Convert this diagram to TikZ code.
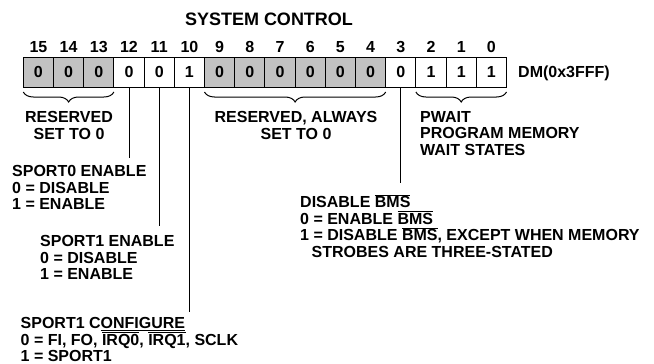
\documentclass[tikz,border=0pt]{standalone}
\usepackage{fontspec}
\setmainfont{Liberation Sans}
\usetikzlibrary{positioning,decorations.pathreplacing}
\newcommand{\ovl}[1]{$\smash{\overline{\mbox{#1}}}$}

\tikzset{
  cell/.style={draw, rectangle, line width=1pt, minimum width=30.2pt, minimum height=30pt, inner sep=0pt, outer sep=0pt},
  shd/.style={fill=gray!48},
  clr/.style={fill=white},
  txt/.style={align=left, anchor=north west, inner sep=0pt},
  lead/.style={line width=0.9pt},
  brc/.style={decorate, decoration={brace, mirror, amplitude=10pt}, line width=1pt}
}

\begin{document}
\begin{tikzpicture}[x=1pt, y=-1pt, font=\fontsize{16}{16.7}\selectfont\bfseries]
            \useasboundingbox (0,0) rectangle (654,364);
            \node [anchor=base, font=\fontsize{18}{20}\selectfont\bfseries] (title) at (269,25.4) {SYSTEM CONTROL};

            \foreach \b/\v/\s in {15/0/shd,14/0/shd,13/0/shd,12/0/clr,11/0/clr,10/1/clr,9/0/shd,8/0/shd,7/0/shd,6/0/shd,5/0/shd,4/0/shd,3/0/clr,2/1/clr,1/1/clr,0/1/clr}{
              \node [cell, \s] (b\b) at ({23.3+(15.5-\b)*30.2},72) {\v};
              \node [anchor=base, inner sep=0pt] (n\b) at ({23.3+(15.5-\b)*30.2},52.7) {\b};
            }
            \node [anchor=base west, inner sep=0pt] (dm) at (518,77.7) {DM(0x3FFF)};

            \draw [brc] ([yshift=-5pt]b15.south west) -- ([yshift=-5pt]b13.south east);
            \draw [brc] ([yshift=-5pt]b9.south west) -- ([yshift=-5pt]b4.south east);
            \draw [brc] ([yshift=-5pt]b2.south west) -- ([yshift=-5pt]b0.south east);

            \node [txt, anchor=north, align=center] (res1) at (69,111) {RESERVED\\SET TO 0};
            \node [txt, anchor=north, align=center] (res2) at (296,111) {RESERVED, ALWAYS\\SET TO 0};
            \node [txt] (pwait) at (420,111) {PWAIT\\PROGRAM MEMORY\\WAIT STATES};
            \node [txt] (sp0) at (12,165) {SPORT0 ENABLE\\0 = DISABLE\\1 = ENABLE};
            \node [txt] (sp1) at (40,235) {SPORT1 ENABLE\\0 = DISABLE\\1 = ENABLE};
            \node [txt] (cfg) at (20.5,317) {SPORT1 C\underline{ONFIGURE}\\0 = FI, FO, \ovl{IRQ0}, \ovl{IRQ1}, SCLK\\1 = SPORT1};
            \node [txt] (bms) at (300,196) {DISABLE \ovl{BMS}\\0 = ENABLE \ovl{BMS}\\1 = DISABLE \ovl{BMS}, EXCEPT WHEN MEMORY\\\hspace*{11.5pt}STROBES ARE THREE-STATED};

            \draw [lead, shorten >=7pt] (b12.south) -- (b12.south |- sp0.north);
            \draw [lead, shorten >=9pt] (b11.south) -- (b11.south |- sp1.north);
            \draw [lead, shorten >=5pt] (b10.south) -- (b10.south |- cfg.north);
            \draw [lead, shorten >=13pt] (b3.south) -- (b3.south |- bms.north);
          \end{tikzpicture}
\end{document}
